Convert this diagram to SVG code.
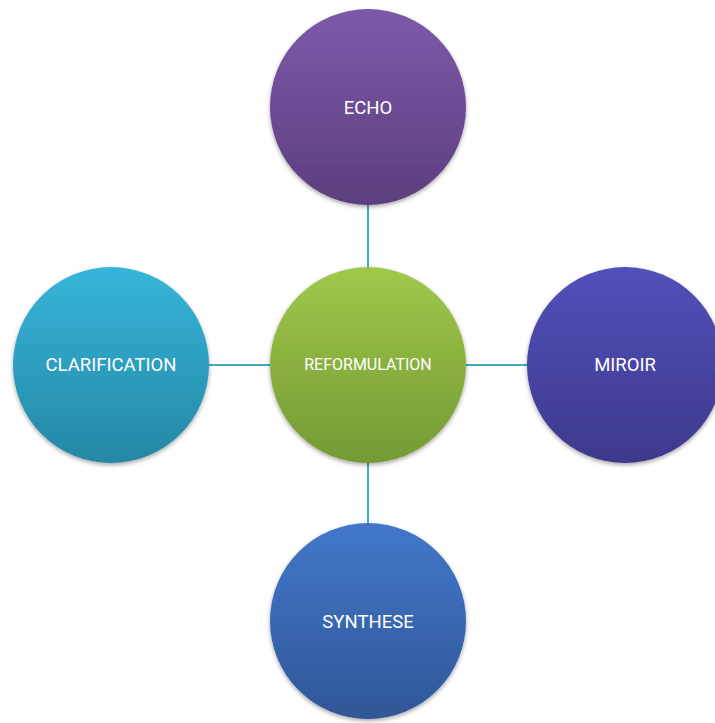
<svg xmlns="http://www.w3.org/2000/svg" width="715" height="723" viewBox="0 0 715 723">
<defs>
<linearGradient id="gEcho" x1="0" y1="0" x2="0" y2="1"><stop offset="0" stop-color="#7E59AA"/><stop offset="1" stop-color="#5C3E7E"/></linearGradient>
<linearGradient id="gRef" x1="0" y1="0" x2="0" y2="1"><stop offset="0" stop-color="#A0C84B"/><stop offset="1" stop-color="#749A34"/></linearGradient>
<linearGradient id="gCla" x1="0" y1="0" x2="0" y2="1"><stop offset="0" stop-color="#36B5DA"/><stop offset="1" stop-color="#2587A4"/></linearGradient>
<linearGradient id="gMir" x1="0" y1="0" x2="0" y2="1"><stop offset="0" stop-color="#5350BA"/><stop offset="1" stop-color="#3D398C"/></linearGradient>
<linearGradient id="gSyn" x1="0" y1="0" x2="0" y2="1"><stop offset="0" stop-color="#4377CA"/><stop offset="1" stop-color="#2F5797"/></linearGradient>
<filter id="sh" x="-20%" y="-20%" width="140%" height="140%"><feDropShadow dx="0" dy="2" stdDeviation="2" flood-color="#000" flood-opacity="0.35"/></filter>
</defs>
<style>
.conn{stroke:#3FAAC8;stroke-width:2;fill:none}
.lbl{font-family:Roboto,"Liberation Sans",sans-serif;fill:#fff;text-anchor:middle;font-size:18.5px}
</style>
<rect width="715" height="723" fill="#fff"/>
<g id="connectors">
<line class="conn" x1="368" y1="200" x2="368" y2="270"/>
<line class="conn" x1="205" y1="365" x2="272" y2="365"/>
<line class="conn" x1="464" y1="365" x2="530" y2="365"/>
<line class="conn" x1="368" y1="460" x2="368" y2="526"/>
</g>
<g id="echo"><circle cx="368" cy="107" r="98" fill="url(#gEcho)" filter="url(#sh)"/><text class="lbl" x="368" y="114">ECHO</text></g>
<g id="reformulation"><circle cx="368" cy="365" r="98" fill="url(#gRef)" filter="url(#sh)"/><text class="lbl" x="368" y="370" style="font-size:16px">REFORMULATION</text></g>
<g id="clarification"><circle cx="111" cy="365" r="98" fill="url(#gCla)" filter="url(#sh)"/><text class="lbl" x="111" y="371">CLARIFICATION</text></g>
<g id="miroir"><circle cx="625" cy="365" r="98" fill="url(#gMir)" filter="url(#sh)"/><text class="lbl" x="625" y="371">MIROIR</text></g>
<g id="synthese"><circle cx="368" cy="621" r="98" fill="url(#gSyn)" filter="url(#sh)"/><text class="lbl" x="368" y="628">SYNTHESE</text></g>
</svg>
